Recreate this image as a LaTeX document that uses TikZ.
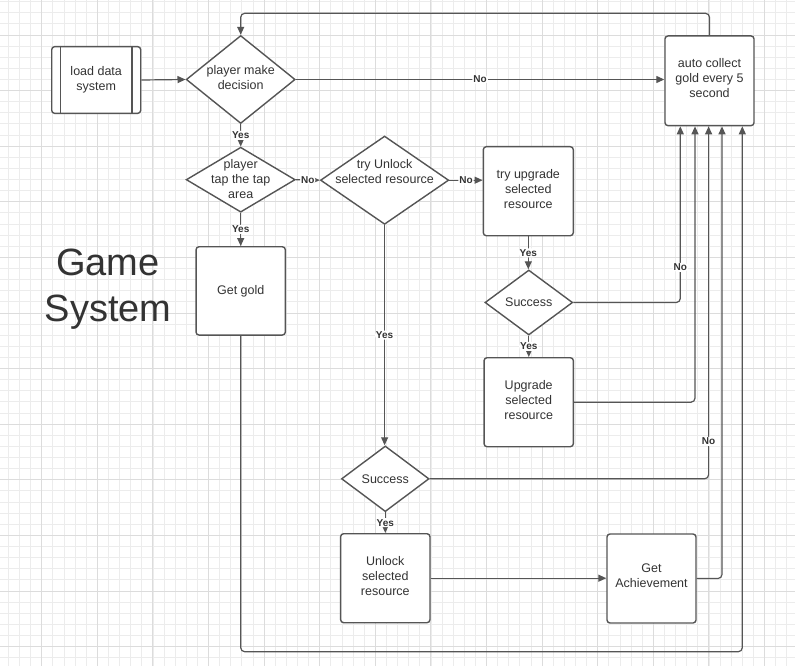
\documentclass[tikz,border=0pt]{standalone}
\usepackage{fontspec}
\setmainfont{Liberation Sans}
\usetikzlibrary{arrows.meta,shapes.geometric,calc}
\definecolor{ln}{HTML}{555555}
\definecolor{tx}{HTML}{333333}
\definecolor{gmin}{HTML}{ECECEC}
\definecolor{gmaj}{HTML}{DCDCDC}
\begin{document}
\begin{tikzpicture}[x=1pt,y=-1pt,
 box/.style={draw=ln, line width=1.4pt, fill=white, rounded corners=3pt, inner sep=0pt},
 dia/.style={diamond, draw=ln, line width=1.4pt, fill=white, inner sep=0pt},
 txt/.style={text=tx, font=\fontsize{12.5}{15}\selectfont, align=center, inner sep=0pt},
 lbl/.style={text=tx, font=\fontsize{10}{12}\selectfont\bfseries, fill=white, inner sep=1pt},
 con/.style={draw=ln, line width=1.2pt, rounded corners=4pt},
 arr/.style={con, -{Triangle[length=8pt,width=7pt]}},
]
\useasboundingbox (0,0) rectangle (795,666);
\fill[white] (0,0) rectangle (795,666);
% grid
\foreach \i in {0,...,71} \draw[gmin, line width=0.7pt] ({8.3+11.12*\i},0) -- ++(0,666);
\foreach \j in {0,...,60} \draw[gmin, line width=0.7pt] (0,{1.5+11.12*\j}) -- ++(795,0);
\foreach \i in {0,...,14} \draw[gmaj, line width=0.75pt] ({41.5+55.6*\i},0) -- ++(0,666);
\foreach \j in {0,...,11} \draw[gmaj, line width=0.75pt] (0,{34.9+55.6*\j}) -- ++(795,0);

% title
\node[text=tx, font=\fontsize{38}{46}\selectfont, align=center, inner sep=0pt] (title) at (108,289) {Game\\System};

% shapes
\node[box, minimum width=89pt, minimum height=66.7pt] (load) at (96.2,80) {};
\draw[ln, line width=1.4pt] ($(load.north west)+(9.3,0)$) -- ($(load.south west)+(9.3,0)$);
\draw[ln, line width=1.4pt] ($(load.north east)+(-9.3,0)$) -- ($(load.south east)+(-9.3,0)$);
\node[txt] (loadt) at (load) {load data\\system};

\node[dia, minimum width=109pt, minimum height=88pt] (d1) at (240.7,79.5) {};
\node[txt] (d1t) at (240.7,78) {player make\\decision};

\node[dia, minimum width=109pt, minimum height=65pt] (d2) at (240.7,179.7) {};
\node[txt] (d2t) at (240.7,179) {player\\tap the tap\\area};

\node[dia, minimum width=128.3pt, minimum height=88.3pt] (d3) at (384.6,180.2) {};
\node[txt] (d3t) at (384.6,172) {try Unlock\\selected resource};

\node[box, minimum width=89.3pt, minimum height=88.3pt] (gold) at (240.7,290.9) {};
\node[txt] (goldt) at (gold) {Get gold};

\node[box, minimum width=90pt, minimum height=89pt] (up) at (528.3,191.2) {};
\node[txt] (upt) at (528.3,189.5) {try upgrade\\selected\\resource};

\node[box, minimum width=89pt, minimum height=89.7pt] (auto) at (709.5,80.8) {};
\node[txt] (autot) at (709.5,78) {auto collect\\gold every 5\\second};

\node[dia, minimum width=87.7pt, minimum height=65pt] (s1) at (528.8,302.5) {};
\node[txt] (s1t) at (s1) {Success};

\node[box, minimum width=89.3pt, minimum height=89pt] (upg) at (528.7,402.2) {};
\node[txt] (upgt) at (528.7,400.5) {Upgrade\\selected\\resource};

\node[dia, minimum width=87.6pt, minimum height=65.7pt] (s2) at (385.3,478.8) {};
\node[txt] (s2t) at (s2) {Success};

\node[box, minimum width=89.3pt, minimum height=89pt] (unl) at (385.3,578.2) {};
\node[txt] (unlt) at (385.3,576.5) {Unlock\\selected\\resource};

\node[box, minimum width=89pt, minimum height=89pt] (ach) at (651.5,578.5) {};
\node[txt] (acht) at (651.5,576) {Get\\Achievement};

% connectors
\coordinate (topc) at (240.7,13.3);
\draw[arr] (load.east) -- (d1.west);
\draw[arr] (auto.north) |- (topc) -- (d1.north);
\draw[arr] (d1.east) -- node[lbl]{No} (d1.east -| auto.west);
\draw[arr] (d1.south) -- node[lbl]{Yes} (d2.north);
\draw[arr] (d2.south) -- node[lbl]{Yes} (gold.north);
\draw[arr] (d2.east) -- node[lbl]{No} (d3.west);
\draw[arr] (d3.east) -- node[lbl]{No} (d3.east -| up.west);
\draw[arr] (up.south) -- node[lbl]{Yes} (up.south |- s1.north);
\draw[arr] (s1.south) -- node[lbl]{Yes} (s1.south |- upg.north);
\draw[arr] (s1.east) -| node[lbl,pos=0.6]{No} ($(auto.south west)+(16,0)$);
\draw[arr] (upg.east) -| ($(auto.south west)+(30.7,0)$);
\draw[arr] (s2.east) -| node[lbl,pos=0.553]{No} ($(auto.south west)+(44.3,0)$);
\draw[arr] (ach.east) -| ($(auto.south west)+(57.7,0)$);
\coordinate (bc) at (742.3,651.7);
\draw[arr] (gold.south) |- (bc) -- (bc |- auto.south);
\draw[arr] (d3.south) -- node[lbl]{Yes} (d3.south |- s2.north);
\draw[arr] (s2.south) -- node[lbl]{Yes} (s2.south |- unl.north);
\draw[arr] (unl.east) -- (unl.east -| ach.west);
\end{tikzpicture}
\end{document}
